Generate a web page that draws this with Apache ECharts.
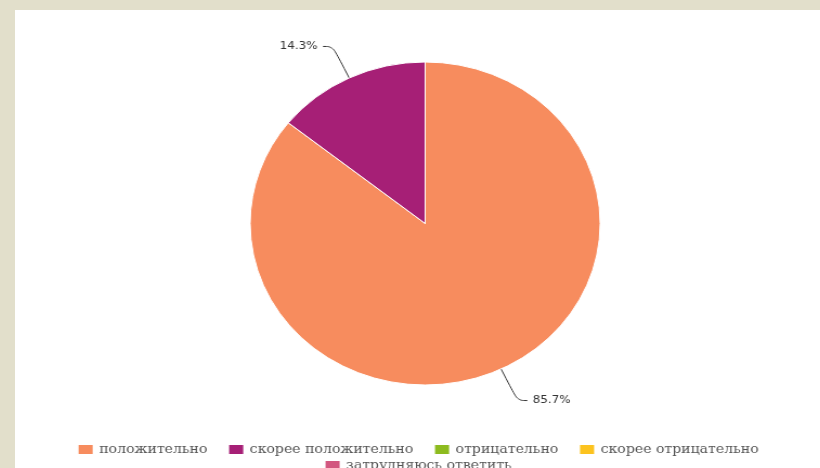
<!DOCTYPE html>
<html>
<head>
<meta charset="utf-8">
<script src="https://cdn.jsdelivr.net/npm/echarts@6/dist/echarts.min.js"></script>
<style>
html,body{margin:0;padding:0;width:820px;height:468px;overflow:hidden;background:#e2dfcb;}
#frame{position:absolute;left:15px;top:10px;width:805px;height:458px;background:#fff;overflow:hidden;}
#chart{position:absolute;left:0;top:0;width:743px;height:458px;transform:scaleX(1.0836);transform-origin:0 0;}
</style>
</head>
<body>
<div id="frame"><div id="chart"></div></div>
<script>
var categories = ['положительно', 'скорее положительно', 'отрицательно', 'скорее отрицательно', 'затрудняюсь ответить'];
var values = [6, 1, 0, 0, 0];
var colors = ['#f78c5e', '#a61f76', '#8dbb1f', '#fcc31f', '#d2577f'];

var data = categories.map(function (c, i) {
  var item = { name: c, value: values[i] };
  if (values[i] === 0) {
    item.label = { show: false };
    item.labelLine = { show: false };
  }
  return item;
});

var legendBase = {
  left: 'center',
  itemWidth: 15,
  itemHeight: 11,
  itemGap: 18,
  icon: 'rect',
  padding: 0,
  textStyle: { fontFamily: 'DejaVu Serif', fontSize: 13, color: '#555' }
};

var chart = echarts.init(document.getElementById('chart'));
chart.setOption({
  animation: false,
  color: colors,
  legend: [
    Object.assign({}, legendBase, { data: categories.slice(0, 4), top: 433 }),
    Object.assign({}, legendBase, { data: categories.slice(4), top: 449 })
  ],
  series: [{
    type: 'pie',
    center: [378.5, 213.5],
    radius: 161.5,
    startAngle: 90,
    clockwise: true,
    data: data,
    itemStyle: { borderColor: '#fff', borderWidth: 1 },
    label: {
      show: true,
      formatter: function (p) { return p.percent.toFixed(1) + '%'; },
      fontFamily: 'DejaVu Sans',
      fontSize: 11,
      color: '#333'
    },
    labelLine: {
      show: true,
      length: 35,
      length2: 9,
      smooth: 0.4,
      lineStyle: { color: '#333', width: 1 }
    }
  }]
});
</script>
</body>
</html>
